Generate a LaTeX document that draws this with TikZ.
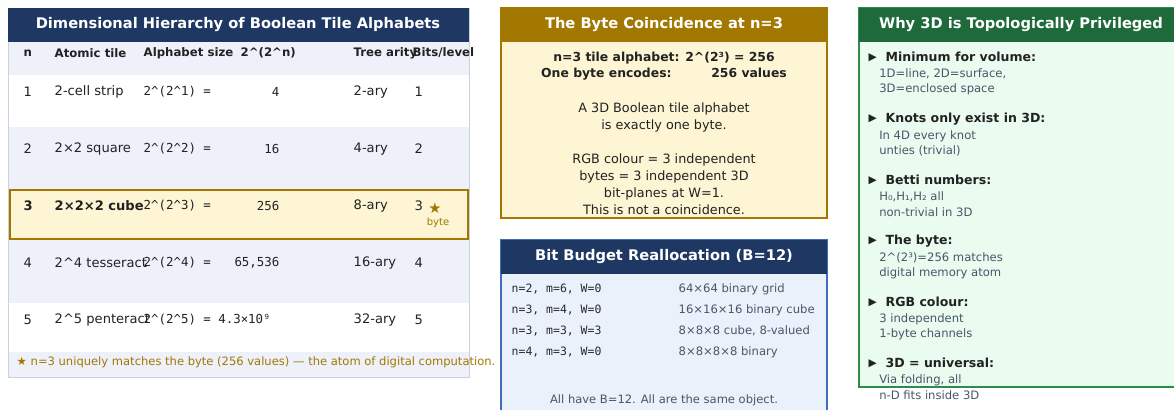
\documentclass[tikz,border=0pt]{standalone}
\usepackage{fontspec}
\setmainfont{DejaVu Sans}
\setmonofont{DejaVu Sans Mono}
\usepackage{xcolor}
\usetikzlibrary{positioning}

\definecolor{navy}{HTML}{1F3863}
\definecolor{gold}{HTML}{A27800}
\definecolor{hlbg}{HTML}{FDF5D3}
\definecolor{tabbg}{HTML}{EEF1FA}
\definecolor{tabline}{HTML}{C8D0E2}
\definecolor{bluebg}{HTML}{EBF1FB}
\definecolor{blueline}{HTML}{3F6EBD}
\definecolor{grn}{HTML}{1E6A3B}
\definecolor{grnbg}{HTML}{EAFBF0}
\definecolor{grnline}{HTML}{2F8A4E}
\definecolor{txt}{HTML}{222222}
\definecolor{subtxt}{HTML}{4A5568}

\begin{document}
\begin{tikzpicture}[x=0.75pt, y=-0.75pt,
  title/.style={font=\bfseries\fontsize{11}{13}\selectfont, text=white},
  colhead/.style={anchor=west, font=\bfseries\fontsize{8.8}{11}\selectfont, text=txt},
  cell/.style={anchor=west, font=\fontsize{9.8}{12}\selectfont, text=txt},
  mono/.style={anchor=west, font=\ttfamily\fontsize{9.3}{11}\selectfont, text=txt},
  num/.style={anchor=east, font=\ttfamily\fontsize{9.3}{11}\selectfont, text=txt},
  line/.style={font=\fontsize{9.6}{12.75}\selectfont, text=txt, align=center},
  bmono/.style={anchor=west, font=\ttfamily\fontsize{8.6}{10}\selectfont, text=txt!85!subtxt},
  btext/.style={anchor=west, font=\fontsize{8.7}{10}\selectfont, text=subtxt},
  item/.style={anchor=west, font=\bfseries\fontsize{9.4}{11}\selectfont, text=txt},
  sub/.style={anchor=west, font=\fontsize{8.7}{10}\selectfont, text=subtxt, inner sep=0pt}]
\useasboundingbox (0,0) rectangle (1174,410);
\clip (0,0) rectangle (1174,410);

% --- hierarchy table
\fill[tabbg] (8,42) rectangle (469,377);
\fill[white] (8,75) rectangle (469,127);
\fill[white] (8,303) rectangle (469,352);
\draw[tabline] (8,8) rectangle (469,377);
\fill[navy] (8,8) rectangle (469,42);
\node[title] (hier) at (238,25) {Dimensional Hierarchy of Boolean Tile Alphabets};
\draw[gold, fill=hlbg, line width=1.2pt] (10,190) rectangle (468,239);

\node[colhead] (hn) at (19,53) {n};
\node[colhead] (htile) at (50,53) {Atomic tile};
\node[colhead] (hsize) at (139,53) {Alphabet size};
\node[colhead] (hexp) at (236,53) {2\textasciicircum(2\textasciicircum n)};
\node[colhead] (harity) at (349,53) {Tree arity};
\node[colhead] (hbits) at (408,53) {Bits/level};

\foreach \n/\tile/\val/\ar/\y in {1/2-cell strip/4/2-ary/92, 2/2×2 square/16/4-ary/149, 4/2\textasciicircum 4 tesseract/{65,536}/16-ary/263}{
  \node[cell] (n\n) at (19,\y) {\n};
  \node[cell] (tile\n) at (50,\y) {\tile};
  \node[mono] (size\n) at (139,\y) {2\textasciicircum(2\textasciicircum\n) =};
  \node[num] (val\n) at (284,\y) {\val};
  \node[cell] (arity\n) at (349,\y) {\ar};
  \node[cell] (bits\n) at (410,\y) {\n};
}
% highlighted row
\node[cell, font=\bfseries\fontsize{9.8}{12}\selectfont] (n3) at (19,206) {3};
\node[cell, font=\bfseries\fontsize{9.8}{12}\selectfont] (tile3) at (50,206) {2×2×2 cube};
\node[mono] (size3) at (139,206) {2\textasciicircum(2\textasciicircum3) =};
\node[num] (val3) at (284,206) {256};
\node[cell] (arity3) at (349,206) {8-ary};
\node[cell] (bits3) at (410,206) {3};
\node[text=gold, font=\fontsize{11}{12}\selectfont] (star) at (435,208) {★};
\node[text=gold, font=\fontsize{7.5}{8}\selectfont] (byte) at (438,223) {byte};
% last row
\node[cell] (n5) at (19,320) {5};
\node[cell] (tile5) at (50,320) {2\textasciicircum 5 penteract};
\node[mono] (size5) at (139,320) {2\textasciicircum(2\textasciicircum5) = 4.3×10⁹};
\node[cell] (arity5) at (349,320) {32-ary};
\node[cell] (bits5) at (410,320) {5};
\node[anchor=west, text=gold, font=\fontsize{8.65}{10}\selectfont] (foot) at (12,362)
  {★ n=3 uniquely matches the byte (256 values) — the atom of digital computation.};

% --- byte coincidence
\draw[gold, fill=hlbg, line width=1.2pt] (501,8) rectangle (827,218);
\fill[gold] (501,8) rectangle (827,42);
\node[title] (coin) at (664,25) {The Byte Coincidence at n=3};
\node[line, font=\bfseries\fontsize{9.3}{12}\selectfont] (coinA) at (664,66)
  {n=3 tile alphabet: 2\textasciicircum(2³) = 256\\One byte encodes:\hspace{3.2em}256 values};
\node[line] (coinB) at (664,117) {A 3D Boolean tile alphabet\\is exactly one byte.};
\node[line] (coinC) at (664,184) {RGB colour = 3 independent\\bytes = 3 independent 3D\\bit-planes at W=1.\\This is not a coincidence.};

% --- bit budget
\draw[blueline, fill=bluebg, line width=1.2pt] (501,240) rectangle (827,420);
\fill[navy] (501,240) rectangle (827,274);
\node[title] (budget) at (664,257) {Bit Budget Reallocation (B=12)};
\foreach \cfg/\obj/\y in {n=2{,} m=6{,} W=0/64×64 binary grid/289, n=3{,} m=4{,} W=0/16×16×16 binary cube/310, n=3{,} m=3{,} W=3/8×8×8 cube{,} 8-valued/331, n=4{,} m=3{,} W=0/8×8×8×8 binary/352}{
  \node[bmono] at (507,\y) {\cfg};
  \node[btext] at (674,\y) {\obj};
}
\node[line, font=\fontsize{8.65}{10}\selectfont, text=subtxt] (same) at (664,400) {All have B=12. All are the same object.};

% --- why 3D
\draw[grnline, fill=grnbg, line width=1.2pt] (859,8) rectangle (1190,387);
\fill[grn] (859,8) rectangle (1190,42);
\node[title] (why) at (1021,25) {Why 3D is Topologically Privileged};
\foreach \head/\subA/\subB/\y in {Minimum for volume:/{1D=line, 2D=surface,}/3D=enclosed space/57,
  Knots only exist in 3D:/In 4D every knot/unties (trivial)/119,
  Betti numbers:/{H₀,H₁,H₂ all}/non-trivial in 3D/180,
  The byte:/2\textasciicircum(2³)=256 matches/digital memory atom/241,
  RGB colour:/3 independent/1-byte channels/302,
  3D = universal:/{Via folding, all}/n-D fits inside 3D/363}{
  \node[item] at (864,\y) {\raisebox{0.5pt}{\fontsize{8}{9}\selectfont▶}\ \ \head};
  \node[sub] at (879,\y+17) {\subA};
  \node[sub] at (879,\y+32) {\subB};
}
\end{tikzpicture}
\end{document}
